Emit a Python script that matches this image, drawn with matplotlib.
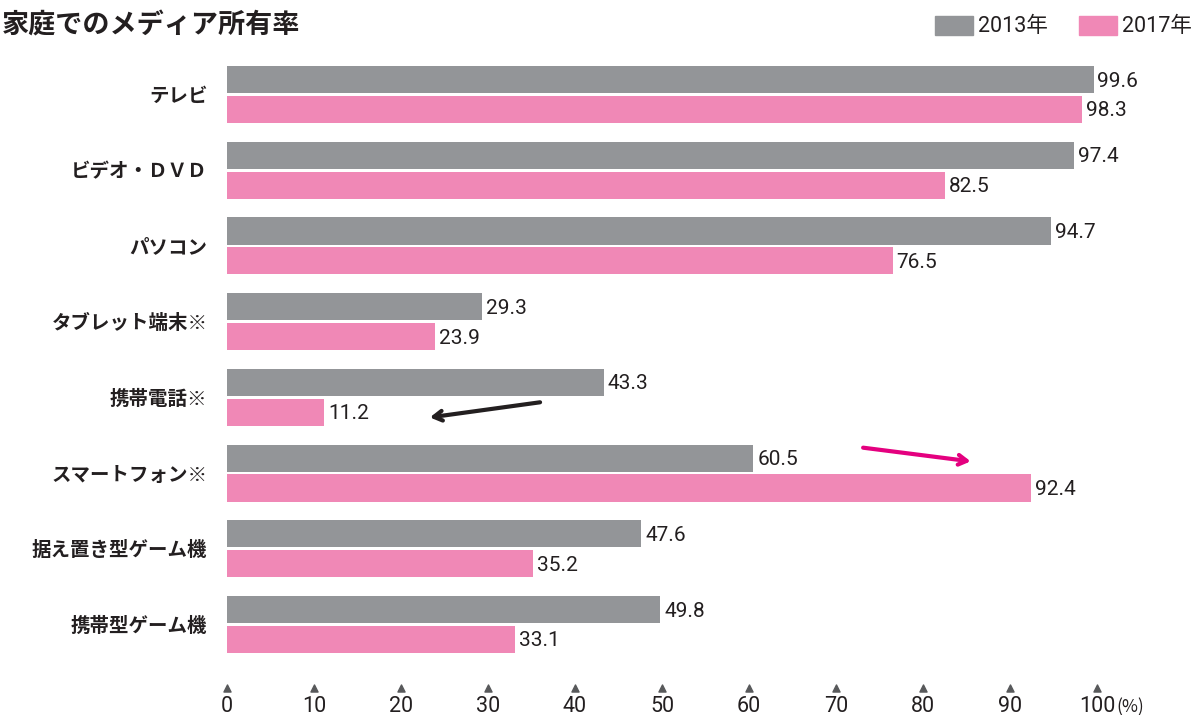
import matplotlib.pyplot as plt
import matplotlib.transforms as mtransforms
from matplotlib.patches import Rectangle
import numpy as np

plt.rcParams['font.family'] = ['Noto Sans CJK JP', 'DejaVu Sans']

# data (%)
categories = ['テレビ', 'ビデオ・ＤＶＤ', 'パソコン', 'タブレット端末※', '携帯電話※',
              'スマートフォン※', '据え置き型ゲーム機', '携帯型ゲーム機']
own_2013 = [99.6, 97.4, 94.7, 29.3, 43.3, 60.5, 47.6, 49.8]
own_2017 = [98.3, 82.5, 76.5, 23.9, 11.2, 92.4, 35.2, 33.1]
xticks = [0, 10, 20, 30, 40, 50, 60, 70, 80, 90, 100]
series_names = ['2013年', '2017年']

gray = '#939598'
pink = '#f088b6'
W, H = 1195, 715

fig = plt.figure(figsize=(W / 100, H / 100), dpi=100)
ax = fig.add_axes([227 / W, 1 - 665 / H, 870 / W, 610 / H])

y = np.arange(len(categories))
off = 0.197
h = 0.36
ax.barh(y - off, own_2013, height=h, color=gray)
ax.barh(y + off, own_2017, height=h, color=pink)

num_font = ['Roboto', 'DejaVu Sans']
for yi, v in zip(y, own_2013):
    ax.text(v + 0.45, yi - off + 0.02, f'{v:.1f}', va='center', ha='left',
            fontsize=15, color='#231f20', family=num_font)
for yi, v in zip(y, own_2017):
    ax.text(v + 0.45, yi + off + 0.02, f'{v:.1f}', va='center', ha='left',
            fontsize=15, color='#231f20', family=num_font)

ax.set_xlim(0, 100)
ax.set_ylim(7.535, -0.522)
for s in ax.spines.values():
    s.set_visible(False)
ax.set_yticks(y)
ax.set_yticklabels(categories, fontsize=14, fontweight='bold', color='#231f20')
ax.tick_params(axis='y', length=0, pad=14)

# bottom scale: triangles + numbers
ax.set_xticks(xticks)
ax.set_xticklabels([str(t) for t in xticks], fontsize=15.5, color='#231f20',
                   family=['Liberation Sans Narrow', 'Roboto', 'DejaVu Sans'])
ax.tick_params(axis='x', length=0, pad=22)
trans = mtransforms.blended_transform_factory(ax.transData, ax.transAxes)
ax.scatter(xticks, [-0.037] * len(xticks), marker='^', s=26, color='#58595b',
           transform=trans, clip_on=False, zorder=3)
ax.text(102.2, -0.07, '(%)', transform=trans, fontsize=12.5, color='#231f20',
        va='center', ha='left')

# arrows
ax.annotate('', xy=(23.0, 4.27), xytext=(36.3, 4.06),
            arrowprops=dict(arrowstyle='->,head_length=0.6,head_width=0.35',
                            color='#231f20', lw=3))
ax.annotate('', xy=(85.8, 4.85), xytext=(72.8, 4.66),
            arrowprops=dict(arrowstyle='->,head_length=0.6,head_width=0.35',
                            color='#e4007f', lw=3))

# title
fig.text(2 / W, 1 - 26 / H, '家庭でのメディア所有率', fontsize=19.5, fontweight='bold',
         color='#231f20', va='center', ha='left')

# legend
for x0, c, name in [(935, gray, series_names[0]), (1079, pink, series_names[1])]:
    fig.patches.append(Rectangle((x0 / W, 1 - 35 / H), 38 / W, 19 / H,
                                 transform=fig.transFigure, color=c))
    fig.text((x0 + 43) / W, 1 - 26 / H, name, fontsize=15.5, color='#231f20',
             va='center', ha='left', family=['Roboto', 'Noto Sans CJK JP'])

fig.savefig('out.png', dpi=100)
